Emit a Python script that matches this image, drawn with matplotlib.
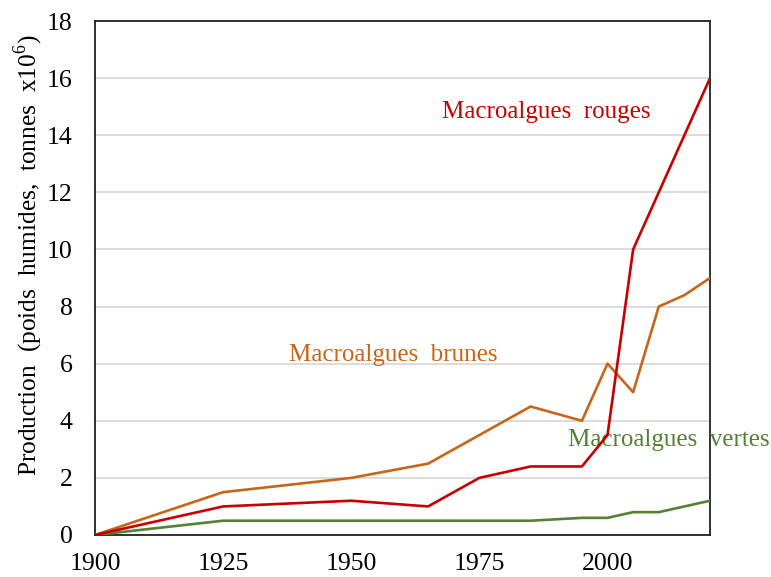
import matplotlib
matplotlib.use("Agg")
import matplotlib.pyplot as plt

plt.rcParams['font.family'] = ['Liberation Serif', 'DejaVu Serif']
plt.rcParams['mathtext.fontset'] = 'custom'
plt.rcParams['mathtext.rm'] = 'Liberation Serif'

years_red = [1900, 1925, 1950, 1965, 1975, 1985, 1995, 2000, 2005, 2010, 2015, 2020]
rouges = [0, 1.0, 1.2, 1.0, 2.0, 2.4, 2.4, 3.5, 10.0, 12.0, 14.0, 16.0]

years_brown = [1900, 1925, 1950, 1965, 1985, 1995, 2000, 2005, 2010, 2015, 2020]
brunes = [0, 1.5, 2.0, 2.5, 4.5, 4.0, 6.0, 5.0, 8.0, 8.4, 9.0]

years_green = [1900, 1925, 1950, 1965, 1985, 1995, 2000, 2005, 2010, 2020]
vertes = [0, 0.5, 0.5, 0.5, 0.5, 0.6, 0.6, 0.8, 0.8, 1.2]

xticks = [1900, 1925, 1950, 1975, 2000]
yticks = [0, 2, 4, 6, 8, 10, 12, 14, 16, 18]

c_red = '#C80000'
c_brown = '#C8651B'
c_green = '#538135'

fig = plt.figure(figsize=(7.71, 5.77), dpi=100)
ax = fig.add_axes([0.1232, 0.0728, 0.7977, 0.8908])

ax.plot(years_brown, brunes, color=c_brown, lw=1.9, zorder=3)
ax.plot(years_green, vertes, color=c_green, lw=1.9, zorder=3)
ax.plot(years_red, rouges, color=c_red, lw=1.9, zorder=4)

ax.set_xlim(1900, 2020)
ax.set_ylim(0, 18)
ax.set_xticks(xticks)
ax.set_yticks(yticks)
ax.tick_params(axis='both', length=0, labelsize=18.5)
ax.tick_params(axis='x', pad=13)
ax.tick_params(axis='y', pad=16)
ax.yaxis.grid(True, color='#D9D9D9', lw=1.3)
ax.set_axisbelow(True)
for s in ax.spines.values():
    s.set_color('#222222')
    s.set_linewidth(1.3)

ax.set_ylabel('Production  (poids  humides,  tonnes  x10$^{6}$)', fontsize=18.3)
ax.yaxis.set_label_coords(-0.082, 0.545)

ax.text(1988, 14.8, 'Macroalgues  rouges', color=c_red, fontsize=18, ha='center', va='center', clip_on=False)
ax.text(1958.2, 6.3, 'Macroalgues  brunes', color=c_brown, fontsize=18, ha='center', va='center', clip_on=False)
ax.text(2012, 3.33, 'Macroalgues  vertes', color=c_green, fontsize=18, ha='center', va='center', clip_on=False)

fig.savefig('out.png', dpi=100)
